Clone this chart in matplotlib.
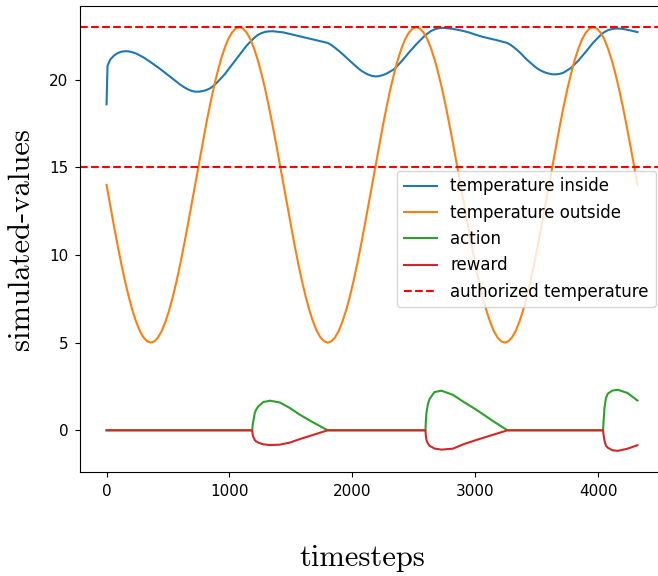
import matplotlib
matplotlib.use("Agg")
import matplotlib.pyplot as plt

# outside temperature, read every 30 timesteps
steps_outside = list(range(0, 4321, 30))
temp_outside = [
    14.0, 12.83, 11.67, 10.56, 9.5, 8.52, 7.64, 6.86, 6.21, 5.68, 5.31, 5.08,
    5.0, 5.08, 5.31, 5.68, 6.21, 6.86, 7.64, 8.52, 9.5, 10.56, 11.67, 12.83,
    14.0, 15.17, 16.33, 17.44, 18.5, 19.48, 20.36, 21.14, 21.79, 22.32, 22.69, 22.92,
    23.0, 22.92, 22.69, 22.32, 21.79, 21.14, 20.36, 19.48, 18.5, 17.44, 16.33, 15.17,
    14.0, 12.83, 11.67, 10.56, 9.5, 8.52, 7.64, 6.86, 6.21, 5.68, 5.31, 5.08,
    5.0, 5.08, 5.31, 5.68, 6.21, 6.86, 7.64, 8.52, 9.5, 10.56, 11.67, 12.83,
    14.0, 15.17, 16.33, 17.44, 18.5, 19.48, 20.36, 21.14, 21.79, 22.32, 22.69, 22.92,
    23.0, 22.92, 22.69, 22.32, 21.79, 21.14, 20.36, 19.48, 18.5, 17.44, 16.33, 15.17,
    14.0, 12.83, 11.67, 10.56, 9.5, 8.52, 7.64, 6.86, 6.21, 5.68, 5.31, 5.08,
    5.0, 5.08, 5.31, 5.68, 6.21, 6.86, 7.64, 8.52, 9.5, 10.56, 11.67, 12.83,
    14.0, 15.17, 16.33, 17.44, 18.5, 19.48, 20.36, 21.14, 21.79, 22.32, 22.69, 22.92,
    23.0, 22.92, 22.69, 22.32, 21.79, 21.14, 20.36, 19.48, 18.5, 17.44, 16.33, 15.17,
    14.0,
]

# inside temperature
steps_inside = [
    0, 8, 30, 60, 90, 120, 150, 180, 210, 240, 300, 360, 420, 480, 540, 600,
    630, 660, 690, 720, 750, 780, 810, 840, 870, 900, 960, 1020, 1080, 1140,
    1200, 1230, 1260, 1290, 1320, 1350, 1380, 1440, 1500, 1560, 1620, 1680,
    1740, 1800, 1830, 1860, 1890, 1920, 1980, 2040, 2070, 2100, 2130, 2160,
    2190, 2220, 2250, 2280, 2340, 2400, 2460, 2520, 2580, 2610, 2640, 2670,
    2700, 2730, 2760, 2820, 2880, 2940, 3000, 3060, 3120, 3180, 3260, 3290,
    3320, 3360, 3420, 3480, 3510, 3540, 3570, 3600, 3630, 3660, 3690, 3720,
    3780, 3840, 3900, 3960, 4020, 4050, 4080, 4110, 4140, 4170, 4200, 4260, 4320,
]
temp_inside = [
    18.6, 20.8, 21.15, 21.38, 21.52, 21.6, 21.63, 21.62, 21.57, 21.5, 21.28, 21.0,
    20.7, 20.38, 20.05, 19.72, 19.58, 19.46, 19.37, 19.32, 19.32, 19.35, 19.41,
    19.5, 19.65, 19.85, 20.3, 20.85, 21.4, 21.95, 22.38, 22.55, 22.66, 22.73,
    22.76, 22.77, 22.75, 22.7, 22.6, 22.5, 22.4, 22.3, 22.2, 22.1, 21.98, 21.82,
    21.65, 21.47, 21.08, 20.7, 20.53, 20.4, 20.29, 20.22, 20.19, 20.21, 20.27,
    20.36, 20.6, 21.05, 21.55, 22.02, 22.45, 22.63, 22.78, 22.88, 22.94, 22.96,
    22.95, 22.9, 22.82, 22.72, 22.58, 22.45, 22.35, 22.25, 22.1, 21.98, 21.82,
    21.58, 21.15, 20.78, 20.62, 20.5, 20.41, 20.35, 20.31, 20.31, 20.34, 20.41,
    20.68, 21.1, 21.6, 22.12, 22.55, 22.72, 22.83, 22.89, 22.92, 22.92, 22.9,
    22.82, 22.72,
]

# heater action and reward
steps_ctrl = [
    0, 1185, 1190, 1199, 1206, 1215, 1234, 1275, 1329, 1410, 1492, 1573, 1681, 1800,
    2595, 2598, 2603, 2615, 2628, 2668, 2725, 2817, 2910, 3010, 3142, 3262,
    4040, 4045, 4052, 4064, 4080, 4117, 4161, 4239, 4320,
]
action = [
    0, 0, 0.35, 0.7, 0.98, 1.15, 1.36, 1.61, 1.69, 1.59, 1.27, 0.89, 0.45, 0,
    0, 0.5, 0.98, 1.5, 1.78, 2.18, 2.26, 2.03, 1.6, 1.17, 0.54, 0,
    0, 0.6, 1.3, 1.85, 2.1, 2.27, 2.31, 2.13, 1.7,
]
reward = [
    0, 0, -0.3, -0.45, -0.55, -0.62, -0.7, -0.8, -0.84, -0.82, -0.7, -0.5, -0.26, 0,
    0, -0.3, -0.55, -0.75, -0.88, -1.04, -1.1, -1.05, -0.78, -0.55, -0.26, 0,
    0, -0.3, -0.6, -0.88, -1.0, -1.14, -1.17, -1.05, -0.85,
]

limits = [15, 23]

fig = plt.figure(figsize=(6.58, 5.76), dpi=100)
ax = fig.add_axes([80 / 658, 104 / 576, 584 / 658, 466 / 576])

ax.plot(steps_inside, temp_inside, label="temperature inside")
ax.plot(steps_outside, temp_outside, label="temperature outside")
ax.plot(steps_ctrl, action, label="action")
ax.plot(steps_ctrl, reward, label="reward")
ax.axhline(limits[0], color="r", linestyle="--", label="authorized temperature")
ax.axhline(limits[1], color="r", linestyle="--")

ax.tick_params(labelsize=11, pad=5)
ax.set_xlabel("timesteps", fontfamily="cmr10", fontsize=22, labelpad=33, x=0.483)
ax.set_ylabel("simulated-values", fontfamily="cmr10", fontsize=22, labelpad=10)
ax.legend(loc="center right", fontsize=12)

fig.savefig("out.png", dpi=100)
